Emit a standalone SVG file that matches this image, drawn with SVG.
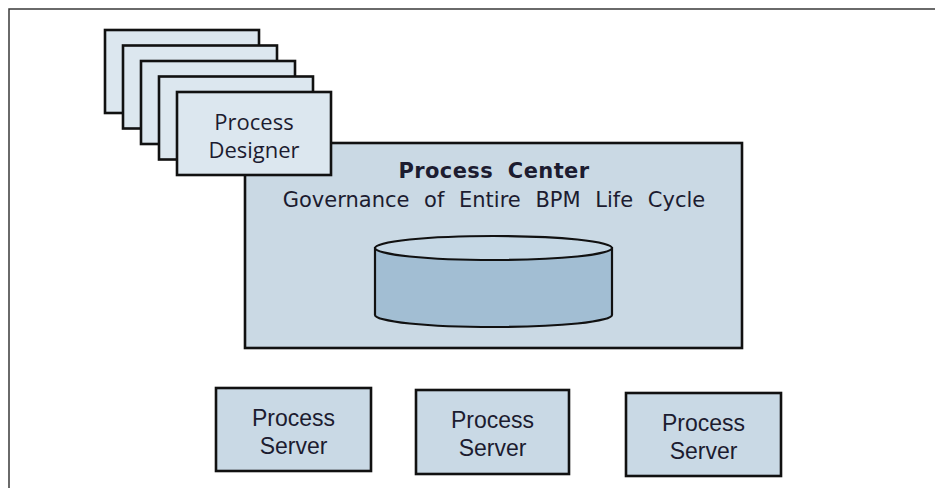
<svg xmlns="http://www.w3.org/2000/svg" width="936" height="488" viewBox="0 0 936 488">
  <style>
    .frame { fill: none; stroke: #3a3a3a; stroke-width: 1.5; }
    .card { fill: #dce7ef; stroke: #111; stroke-width: 2.6; }
    .center { fill: #cad9e4; stroke: #111; stroke-width: 2.6; }
    .server { fill: #c9d9e5; stroke: #111; stroke-width: 2.6; }
    .db-body { fill: #a2bed3; stroke: #111; stroke-width: 2.2; }
    .db-top { fill: #c6d8e5; stroke: #111; stroke-width: 2.2; }
    .lbl { fill: #1c1c30; text-anchor: middle; }
    .designer { font-family: "Open Sans", "DejaVu Sans", sans-serif; font-size: 22px; }
    .title { font-family: "DejaVu Sans", Verdana, sans-serif; font-size: 21px; font-weight: bold; letter-spacing: 0.4px; word-spacing: 7px; }
    .sub { font-family: "DejaVu Sans", Verdana, sans-serif; font-size: 21px; word-spacing: 8px; }
    .srv { font-family: "Liberation Sans", Arial, sans-serif; font-size: 23px; }
  </style>

  <rect width="936" height="488" fill="#ffffff"/>

  <!-- outer frame, open at the bottom -->
  <path class="frame" d="M9 488 V9 H935"/>

  <!-- central repository box -->
  <g id="process-center">
    <rect class="center" x="245" y="143" width="497" height="205"/>
    <text class="lbl title" x="494" y="178">Process Center</text>
    <text class="lbl sub" x="494" y="207">Governance of Entire BPM Life Cycle</text>
    <g id="repository">
      <path class="db-body" d="M375 248 V315 A118.5 12 0 0 0 612 315 V248 Z"/>
      <ellipse class="db-top" cx="493.5" cy="248" rx="118.5" ry="12"/>
    </g>
  </g>

  <!-- stack of designer workstations -->
  <g id="process-designer">
    <rect class="card" x="105" y="30" width="154" height="83"/>
    <rect class="card" x="123" y="45.5" width="154" height="83"/>
    <rect class="card" x="141" y="61" width="154" height="83"/>
    <rect class="card" x="159" y="76.5" width="154" height="83"/>
    <rect class="card" x="177" y="92" width="154" height="83"/>
    <text class="lbl designer" x="254" y="130">Process</text>
    <text class="lbl designer" x="254" y="158">Designer</text>
  </g>

  <g id="process-server-1">
    <rect class="server" x="216" y="388" width="155" height="83"/>
    <text class="lbl srv" x="293.5" y="426">Process</text>
    <text class="lbl srv" x="293.5" y="454">Server</text>
  </g>

  <g id="process-server-2">
    <rect class="server" x="416" y="390" width="153" height="84"/>
    <text class="lbl srv" x="492.5" y="428">Process</text>
    <text class="lbl srv" x="492.5" y="456">Server</text>
  </g>

  <g id="process-server-3">
    <rect class="server" x="626" y="393" width="155" height="83"/>
    <text class="lbl srv" x="703.5" y="431">Process</text>
    <text class="lbl srv" x="703.5" y="459">Server</text>
  </g>

  <!-- no connectors are drawn between the nodes -->
  <g id="connectors"/>
</svg>
